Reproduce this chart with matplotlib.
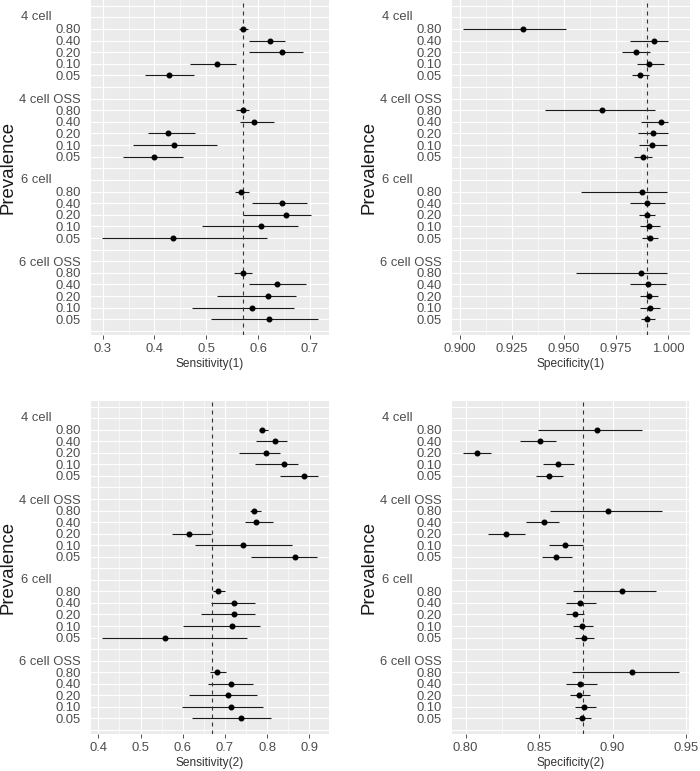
import matplotlib
matplotlib.use("Agg")
import matplotlib.pyplot as plt
import numpy as np

plt.rcParams['font.family'] = ['Liberation Sans', 'DejaVu Sans']

groups = ["4 cell", "4 cell OSS", "6 cell", "6 cell OSS"]
prevalences = ["0.80", "0.40", "0.20", "0.10", "0.05"]

# Sensitivity(1): order = group x prevalence (0.80, 0.40, 0.20, 0.10, 0.05)
sens1_est = [0.571, 0.624, 0.647, 0.521, 0.428,
             0.570, 0.592, 0.427, 0.437, 0.400,
             0.568, 0.647, 0.654, 0.606, 0.436,
             0.571, 0.637, 0.619, 0.588, 0.621]
sens1_lo = [0.564, 0.583, 0.582, 0.469, 0.381,
            0.557, 0.565, 0.388, 0.358, 0.339,
            0.556, 0.588, 0.570, 0.492, 0.298,
            0.554, 0.583, 0.521, 0.473, 0.509]
sens1_hi = [0.581, 0.652, 0.686, 0.557, 0.477,
            0.583, 0.631, 0.478, 0.521, 0.456,
            0.582, 0.694, 0.702, 0.678, 0.617,
            0.588, 0.692, 0.673, 0.669, 0.716]
sens1_ref = 0.57

spec1_est = [0.9306, 0.9932, 0.9846, 0.9910, 0.9866,
             0.9683, 0.9967, 0.9928, 0.9925, 0.9878,
             0.9877, 0.9901, 0.9900, 0.9910, 0.9912,
             0.9869, 0.9904, 0.9907, 0.9912, 0.9901]
spec1_lo = [0.9015, 0.9817, 0.9779, 0.9851, 0.9825,
            0.9408, 0.9872, 0.9857, 0.9860, 0.9836,
            0.9580, 0.9819, 0.9858, 0.9865, 0.9877,
            0.9557, 0.9819, 0.9863, 0.9865, 0.9868]
spec1_hi = [0.9510, 0.9998, 0.9913, 0.9979, 0.9906,
            0.9936, 1.0000, 0.9998, 0.9994, 0.9925,
            0.9997, 0.9985, 0.9939, 0.9959, 0.9951,
            0.9997, 0.9991, 0.9953, 0.9962, 0.9938]
spec1_ref = 0.99

sens2_est = [0.7886, 0.8186, 0.7965, 0.8400, 0.8874,
             0.7697, 0.7728, 0.6148, 0.7420, 0.8652,
             0.6844, 0.7215, 0.7215, 0.7160, 0.5572,
             0.6820, 0.7136, 0.7065, 0.7152, 0.7389]
sens2_lo = [0.7810, 0.7736, 0.7333, 0.7720, 0.8305,
            0.7586, 0.7476, 0.5754, 0.6299, 0.7610,
            0.6725, 0.6662, 0.6433, 0.5998, 0.4087,
            0.6646, 0.6607, 0.6156, 0.5983, 0.6227]
sens2_hi = [0.8030, 0.8479, 0.8297, 0.8731, 0.9205,
            0.7855, 0.8147, 0.6662, 0.8589, 0.9190,
            0.7000, 0.7712, 0.7712, 0.7831, 0.7531,
            0.7025, 0.7657, 0.7752, 0.7894, 0.8084]
sens2_ref = 0.67

spec2_est = [0.8897, 0.8506, 0.8075, 0.8626, 0.8567,
             0.8967, 0.8536, 0.8275, 0.8676, 0.8617,
             0.9064, 0.8776, 0.8742, 0.8794, 0.8808,
             0.9133, 0.8781, 0.8774, 0.8808, 0.8792]
spec2_lo = [0.8495, 0.8370, 0.7980, 0.8529, 0.8479,
            0.8574, 0.8409, 0.8152, 0.8565, 0.8520,
            0.8733, 0.8683, 0.8683, 0.8733, 0.8747,
            0.8722, 0.8683, 0.8710, 0.8742, 0.8742]
spec2_hi = [0.9201, 0.8617, 0.8175, 0.8738, 0.8660,
            0.9339, 0.8638, 0.8404, 0.8801, 0.8724,
            0.9296, 0.8885, 0.8806, 0.8865, 0.8874,
            0.9453, 0.8896, 0.8847, 0.8885, 0.8851]
spec2_ref = 0.88

panels = [
    dict(est=sens1_est, lo=sens1_lo, hi=sens1_hi, ref=sens1_ref, label="Sensitivity(1)",
         xlim=(0.2768, 0.737), major=np.arange(0.3, 0.71, 0.1), fmt="{:.1f}",
         pos=[90.7, 0, 329, 335]),
    dict(est=spec1_est, lo=spec1_lo, hi=spec1_hi, ref=spec1_ref, label="Specificity(1)",
         xlim=(0.8962, 1.0105), major=np.arange(0.9, 1.001, 0.025), fmt="{:.3f}",
         pos=[451.7, 0, 690, 335]),
    dict(est=sens2_est, lo=sens2_lo, hi=sens2_hi, ref=sens2_ref, label="Sensitivity(2)",
         xlim=(0.3818, 0.9466), major=np.arange(0.4, 0.91, 0.1), fmt="{:.1f}",
         pos=[90.7, 401, 329, 734]),
    dict(est=spec2_est, lo=spec2_lo, hi=spec2_hi, ref=spec2_ref, label="Specificity(2)",
         xlim=(0.7905, 0.952), major=np.arange(0.8, 0.951, 0.05), fmt="{:.2f}",
         pos=[451.7, 401, 689, 734]),
]

W, H = 700, 771
fig = plt.figure(figsize=(W / 100, H / 100), dpi=100)

# row layout
rows = []
ylabels = {}
for g, name in enumerate(groups):
    ylabels[7 * g] = name
    for i, p in enumerate(prevalences):
        r = 7 * g + 1 + i
        rows.append(r)
        ylabels[r] = p
rows = np.array(rows)
all_rows = list(range(-1, 28))

for P in panels:
    l, t, r, b = P["pos"]
    ax = fig.add_axes([l / W, 1 - b / H, (r - l) / W, (b - t) / H])
    ax.set_facecolor("#EBEBEB")
    for s in ax.spines.values():
        s.set_visible(False)
    ax.set_xlim(*P["xlim"])
    ax.set_ylim(27.35, -1.49)
    major = P["major"]
    step = major[1] - major[0]
    minor = np.arange(major[0] - step / 2, major[-1] + step, step)
    minor = [m for m in minor if P["xlim"][0] < m < P["xlim"][1]]
    for m in minor:
        ax.axvline(m, color="white", lw=0.4, zorder=0.5)
    for m in major:
        ax.axvline(m, color="white", lw=0.8, zorder=0.6)
    for rr in all_rows:
        ax.axhline(rr, color="white", lw=0.8, zorder=0.6)
    ax.set_xticks(major)
    ax.set_xticklabels([P["fmt"].format(v) for v in major])
    ax.set_yticks(all_rows)
    labs = []
    for rr in all_rows:
        lab = ylabels.get(rr, "")
        if lab in ("4 cell", "6 cell"):
            lab = ""
        labs.append(lab)
    ax.set_yticklabels(labs)
    for g, name in enumerate(groups):
        if name in ("4 cell", "6 cell"):
            ax.annotate(name, xy=(0, 7 * g), xycoords=("axes fraction", "data"),
                        xytext=(-28, 0), textcoords="offset points", ha="right",
                        va="center", fontsize=9.4, color="#4D4D4D")
    ax.tick_params(axis="x", length=2.75, width=0.6, color="#333333",
                   labelcolor="#4D4D4D", labelsize=9.4, pad=3.0)
    ax.tick_params(axis="y", length=0, labelcolor="#4D4D4D", labelsize=9.4, pad=7.2)
    ax.hlines(rows, P["lo"], P["hi"], color="#1a1a1a", lw=0.8, zorder=2)
    ax.plot(P["est"], rows, "o", color="black", ms=3.3, zorder=3)
    ax.axvline(P["ref"], color="#333333", lw=0.8, ls=(0, (3.6, 3.6)), zorder=2.5)
    ax.set_xlabel(P["label"], fontsize=8.6, color="#333333", labelpad=2)
    ax.set_ylabel("Prevalence", fontsize=13.4, color="#1a1a1a", labelpad=2)

fig.savefig("out.png", dpi=100)
